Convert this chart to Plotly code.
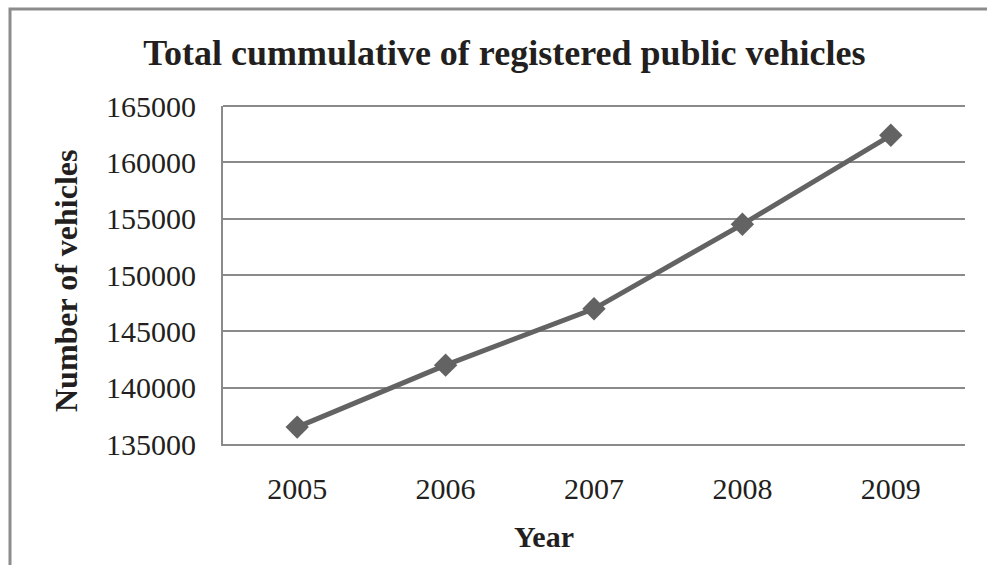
import plotly.graph_objects as go

years = ["2005", "2006", "2007", "2008", "2009"]
vehicles = [136500, 142000, 147000, 154500, 162400]
y_ticks = [135000, 140000, 145000, 150000, 155000, 160000, 165000]

title_text = "Total cummulative of registered public vehicles"
x_title = "Year"
y_title = "Number of vehicles"

W, H = 987, 565
L, R, T, B = 223, 22, 106, 121
pw, ph = W - L - R, H - T - B

def px_x(p):
    return (p - L) / pw

def px_y(p):
    return (H - B - p) / ph

serif = "Liberation Serif, Times New Roman, serif"
txt = "#231f20"
grid = "#8a8a8a"
linec = "#636363"

fig = go.Figure()
fig.add_trace(go.Scatter(
    x=years, y=vehicles, mode="lines+markers",
    line=dict(color=linec, width=5),
    marker=dict(symbol="diamond", size=18, color=linec),
    showlegend=False, cliponaxis=False,
))

fig.update_layout(
    width=W, height=H, autosize=False,
    margin=dict(l=L, r=R, t=T, b=B),
    paper_bgcolor="white", plot_bgcolor="white",
    font=dict(family=serif, color=txt, size=30),
    title=dict(text="<b>" + title_text + "</b>", x=0.511, xanchor="center",
               y=1 - 52 / H, yanchor="middle", yref="container",
               font=dict(family=serif, size=36, color=txt)),
    xaxis=dict(type="category", range=[-0.5, len(years) - 0.5],
               showgrid=False, showline=True, linecolor=grid,
               linewidth=2, ticks="", ticklabelstandoff=17,
               tickfont=dict(family=serif, size=30, color=txt)),
    yaxis=dict(range=[135000, 165000], tickvals=y_ticks,
               ticktext=[str(v) for v in y_ticks],
               showgrid=True, gridcolor=grid, gridwidth=2,
               showline=True, linecolor=grid, linewidth=2, zeroline=False,
               ticks="", ticklabelstandoff=19,
               tickfont=dict(family=serif, size=30, color=txt)),
    annotations=[
        dict(text="<b>" + y_title + "</b>", textangle=-90, xref="paper", yref="paper",
             x=px_x(66), y=px_y(281), xanchor="center", yanchor="middle",
             showarrow=False, font=dict(family=serif, size=32, color=txt)),
        dict(text="<b>" + x_title + "</b>", xref="paper", yref="paper",
             x=px_x(544), y=px_y(536), xanchor="center", yanchor="middle",
             showarrow=False, font=dict(family=serif, size=30, color=txt)),
    ],
    shapes=[
        dict(type="rect", xref="paper", yref="paper",
             x0=px_x(10), y0=px_y(9), x1=px_x(W + 20), y1=px_y(H + 20),
             line=dict(color="#8c8c8c", width=3), fillcolor="rgba(0,0,0,0)",
             layer="below"),
        dict(type="line", xref="paper", yref="paper",
             x0=0, x1=1, y0=1, y1=1, line=dict(color=grid, width=2), layer="below"),
    ],
)

fig.write_html("out.html")
